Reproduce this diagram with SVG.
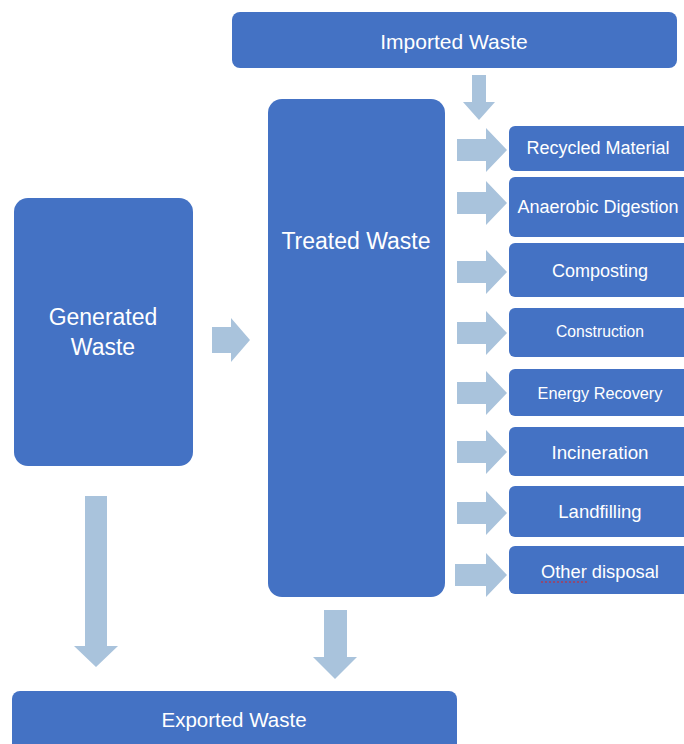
<svg xmlns="http://www.w3.org/2000/svg" width="684" height="744" viewBox="0 0 684 744">
<style>
.box{fill:#4472C4;}
.arr{fill:#A9C3DC;}
text{font-family:"Liberation Sans",Arial,sans-serif;fill:#FFFFFF;text-anchor:middle;}
.r{font-size:18px;}
</style>
<rect width="684" height="744" fill="#FFFFFF"/>
<g id="imported"><rect class="box" x="232" y="12" width="445" height="56" rx="8"/><text x="454" y="49" font-size="21">Imported Waste</text></g>
<g id="treated"><rect class="box" x="268" y="99" width="177" height="498" rx="14"/><text x="356" y="249" font-size="23">Treated Waste</text></g>
<g id="generated"><rect class="box" x="14" y="198" width="179" height="268" rx="14"/><text x="103" y="325" font-size="23">Generated</text><text x="103" y="355" font-size="23">Waste</text></g>
<g id="exported"><rect class="box" x="12" y="691" width="445" height="70" rx="8"/><text x="234" y="727" font-size="20.5">Exported Waste</text></g>
<g id="recycled"><rect class="box" x="509" y="126" width="190" height="45" rx="6"/><text class="r" x="598" y="154">Recycled Material</text></g>
<g id="anaerobic"><rect class="box" x="509" y="177" width="190" height="60" rx="6"/><text class="r" x="598" y="213">Anaerobic Digestion</text></g>
<g id="composting"><rect class="box" x="509" y="243" width="190" height="54" rx="6"/><text class="r" x="600" y="277">Composting</text></g>
<g id="construction"><rect class="box" x="509" y="308" width="190" height="49" rx="6"/><text x="600" y="337" font-size="15.7">Construction</text></g>
<g id="energy"><rect class="box" x="509" y="369" width="190" height="47" rx="6"/><text x="600" y="399" font-size="16.3">Energy Recovery</text></g>
<g id="incineration"><rect class="box" x="509" y="427" width="190" height="49" rx="6"/><text x="600" y="459" font-size="18.8">Incineration</text></g>
<g id="landfilling"><rect class="box" x="509" y="486" width="190" height="51" rx="6"/><text x="600" y="518" font-size="18.5">Landfilling</text></g>
<g id="other"><rect class="box" x="509" y="546" width="190" height="48" rx="6"/><text x="600" y="578" font-size="18.3">Other disposal</text><line x1="541" y1="582" x2="587" y2="582" stroke="#E02020" stroke-width="1" stroke-dasharray="2,2"/></g>
<g id="connectors">
<polygon class="arr" points="472,75 486,75 486,102 495,102 479,120 463,102 472,102"/>
<polygon class="arr" points="212,327 231,327 231,318 250,340 231,362 231,353 212,353"/>
<polygon class="arr" points="85,496 107,496 107,646 118,646 96,667 74,646 85,646"/>
<polygon class="arr" points="324,610 347,610 347,657 357,657 335,679 313,657 324,657"/>
<polygon class="arr" points="457,139 486,139 486,128 507,150 486,172 486,161 457,161"/>
<polygon class="arr" points="457,192 486,192 486,181 507,203 486,225 486,214 457,214"/>
<polygon class="arr" points="457,261 486,261 486,250 507,272 486,294 486,283 457,283"/>
<polygon class="arr" points="457,322 486,322 486,311 507,333 486,355 486,344 457,344"/>
<polygon class="arr" points="457,382 486,382 486,371 507,393 486,415 486,404 457,404"/>
<polygon class="arr" points="457,441 486,441 486,430 507,452 486,474 486,463 457,463"/>
<polygon class="arr" points="457,502 486,502 486,491 507,513 486,535 486,524 457,524"/>
<polygon class="arr" points="455,564 486,564 486,553 507,575 486,597 486,586 455,586"/>
</g>
</svg>
